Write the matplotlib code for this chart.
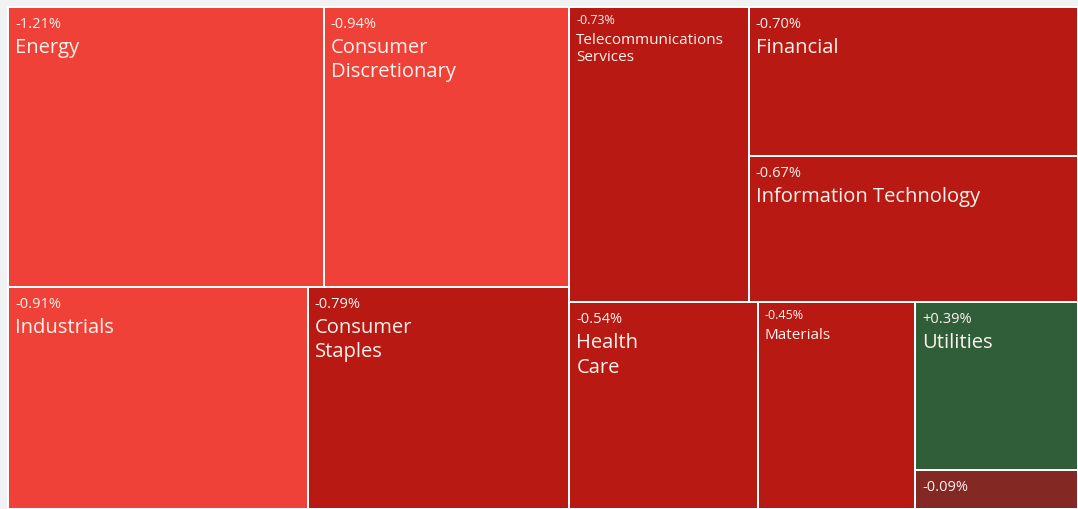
import matplotlib.pyplot as plt
from matplotlib.patches import Rectangle

plt.rcParams['font.family'] = ['Open Sans', 'DejaVu Sans']

# sector data: label, share of area (%), daily change (%)
names = ['Energy', 'Consumer\nDiscretionary', 'Industrials', 'Consumer\nStaples',
         'Telecommunications\nServices', 'Financial', 'Information Technology',
         'Health\nCare', 'Materials', 'Utilities', '']
weights = [16.46, 12.80, 12.39, 10.81, 9.85, 9.15, 8.96, 7.26, 6.06, 5.08, 1.18]
changes = [-1.21, -0.94, -0.91, -0.79, -0.73, -0.70, -0.67, -0.54, -0.45, 0.39, -0.09]

# how the tiles are grouped (h = side by side, v = stacked)
tree = ('h', [('v', [('h', [0, 1]), ('h', [2, 3])]),
              ('v', [('h', [4, ('v', [5, 6])]),
                     ('h', [7, 8, ('v', [9, 10])])])])

small_labels = {4, 8}


def total(node):
    if isinstance(node, int):
        return weights[node]
    return sum(total(c) for c in node[1])


def layout(node, x, y, w, h, out):
    if isinstance(node, int):
        out[node] = (x, y, w, h)
        return
    d, kids = node
    s = total(node)
    for k in kids:
        f = total(k) / s
        if d == 'h':
            layout(k, x, y, w * f, h, out)
            x += w * f
        else:
            layout(k, x, y, w, h * f, out)
            y += h * f


def colour(v):
    if v > 0:
        return '#2f5e39'
    if v <= -0.9:
        return '#ef4137'
    if v <= -0.3:
        return '#b81912'
    return '#832823'


fig = plt.figure(figsize=(10.78, 5.10), dpi=100)
fig.patch.set_facecolor('#f0f2f4')
ax = fig.add_axes([0, 0, 1, 1])
ax.set_xlim(0, 1078)
ax.set_ylim(510, 0)
ax.axis('off')

rects = {}
layout(tree, 8, 8, 1070, 502, rects)

lw = 2 * 72 / 100
for i, (x, y, w, h) in rects.items():
    ax.add_patch(Rectangle((x, y), w, h, facecolor=colour(changes[i]),
                           edgecolor='white', linewidth=lw))
    pct = ('+' if changes[i] > 0 else '') + '%.2f%%' % changes[i]
    if i in small_labels:
        ax.text(x + 7, y + 6, pct, color='#fdf3ee', fontsize=9, va='top', ha='left')
        ax.text(x + 7, y + 25, names[i], color='#fdf3ee', fontsize=11,
                va='top', ha='left', linespacing=1.2)
    else:
        ax.text(x + 7, y + 9, pct, color='#fdf3ee', fontsize=10.5, va='top', ha='left')
        ax.text(x + 7, y + 30, names[i], color='#fdf3ee', fontsize=14.5,
                va='top', ha='left', linespacing=1.3)

fig.savefig('out.png', dpi=100, facecolor=fig.get_facecolor())
